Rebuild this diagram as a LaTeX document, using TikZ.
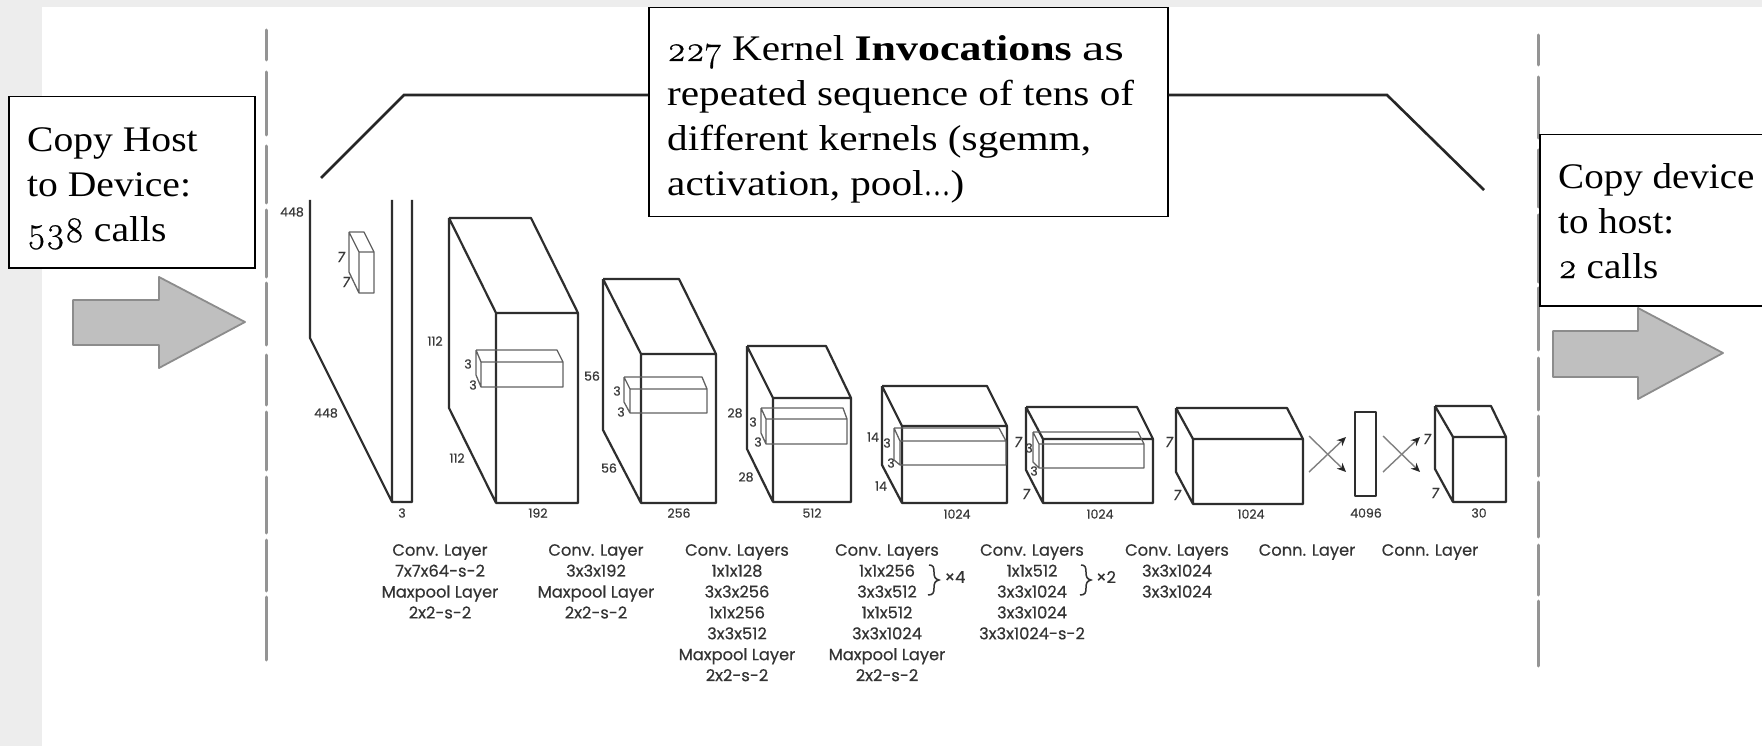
\documentclass[tikz,border=0pt]{standalone}
\usepackage{fontspec}
\setmainfont{Liberation Serif}
\newfontfamily\labelfont{Poppins}[FakeBold=0.4]
\newfontfamily\capfont{Poppins}[FakeBold=0.4,Numbers=Monospaced]
\newfontfamily\serifTop{Liberation Serif}[FakeStretch=1.145,BoldFeatures={FakeStretch=1.22}]
\newfontfamily\serifLeft{Liberation Serif}[FakeStretch=1.1]
\newfontfamily\serifRight{Liberation Serif}[FakeStretch=1.085]
\newfontfamily\serifWide{Liberation Serif}[FakeStretch=1.4]
\newfontfamily\serifTight{Liberation Serif}[FakeStretch=0.75]
\newfontfamily\osnfont{Latin Modern Roman}[Numbers=OldStyle,FakeBold=0.6]
\newcommand{\osn}[1]{{\osnfont #1}}
\usetikzlibrary{arrows.meta}
\newcommand{\cuboid}[9][]{%
 \def\argA{#2}\def\argB{#3}\def\argC{#4}\def\argD{#5}\def\argE{#6}\def\argF{#7}\def\argG{#8}\def\argH{#9}%
 \draw[#1] (\argD,\argE) rectangle (\argF,\argG)
   (\argA,\argB) -- (\argC,\argB) -- (\argF,\argE)
   (\argA,\argB) -- (\argD,\argE)
   (\argA,\argB) -- (\argA,\argH) -- (\argD,\argG);}
\tikzset{
 x=1pt,y=-1pt,
 layer/.style={draw=black!82,line width=2.2pt,line join=round},
 kernel/.style={draw=black!62,line width=1.3pt,line join=round},
 dim/.style={font=\labelfont\fontsize{12.5}{13}\selectfont,text=black!78,inner sep=0pt},
 dimit/.style={font=\labelfont\itshape\fontsize{14}{14}\selectfont,text=black!78,inner sep=0pt},
 caption/.style={font=\capfont\fontsize{16.3}{20.9}\selectfont,text=black!80,inner sep=0pt,align=center,anchor=north},
 callout/.style={draw=black,line width=1.5pt,fill=white,inner sep=0pt,anchor=north west},
 calltext/.style={font=\fontsize{36}{45}\selectfont,inner sep=0pt,align=left,text=black},
 guide/.style={draw=black!42,line width=3pt,line cap=round},
 bigarrow/.style={draw=black!45,fill=black!25,line width=1.8pt,line join=round},
 bracket/.style={draw=black!85,line width=2.6pt},
 xline/.style={draw=black!50,line width=1.4pt,-{Stealth[length=9pt,width=8pt,black!85]}},
}
\begin{document}
\begin{tikzpicture}
\useasboundingbox (0,0) rectangle (1762,746);
\clip (0,0) rectangle (1762,746);
\fill[black!7] (0,0) rectangle (1762,746);
\fill[white] (42,7) rectangle (1762,746);
% guides
\foreach \a/\b in {30/60,72/135,146/203,210/277,283/345,355/405,412/470,477/533,540/591,597/660}
  \draw[guide] (266,\a) -- (266,\b);
\foreach \a/\b in {35/65,77/138,150/207,215/282,288/350,358/410,416/476,482/537,545/595,601/666}
  \draw[guide] (1538,\a) -- (1538,\b);
% big arrows
\draw[bigarrow] (73,300) -- (159,300) -- (159,277) -- (245,322) -- (159,368) -- (159,345) -- (73,345) -- cycle;
\draw[bigarrow] (1553,331) -- (1638,331) -- (1638,308) -- (1723,353) -- (1638,399) -- (1638,377) -- (1553,377) -- cycle;
% layer 1
\draw[layer] (310,200) -- (310,338) -- (392,502) -- (392,200) (392,502) -- (412,502) -- (412,200);
\cuboid[kernel]{349}{232}{364}{359}{252}{374}{293}{272}
\node[dim] (d1a) at (292,212) {448};
\node[dim] (d1b) at (326,413) {448};
\node[dim] (d1c) at (402,513) {3};
\node[dimit] (k1a) at (341,257) {7};
\node[dimit] (k1b) at (346,282) {7};
% layer 2
\cuboid[layer]{449}{218}{531}{496}{313}{578}{503}{408}
\cuboid[kernel]{476}{350}{557}{481}{362}{563}{387}{375}
\node[dim] (d2a) at (435,341) {112};
\node[dim] (d2b) at (457,458) {112};
\node[dim] (d2c) at (538,513) {192};
\node[dim] (k2a) at (468,364) {3};
\node[dim] (k2b) at (473,385) {3};
% layer 3
\cuboid[layer]{603}{279}{679}{641}{354}{716}{503}{430}
\cuboid[kernel]{624}{377}{702}{630}{389}{707}{413}{402}
\node[dim] (d3a) at (592,376) {56};
\node[dim] (d3b) at (609,468) {56};
\node[dim] (d3c) at (679,513) {256};
\node[dim] (k3a) at (617,391) {3};
\node[dim] (k3b) at (621,412) {3};
% layer 4
\cuboid[layer]{747}{346}{826}{773}{398}{851}{502}{449}
\cuboid[kernel]{761}{408}{843}{766}{419}{847}{444}{433}
\node[dim] (d4a) at (735,413) {28};
\node[dim] (d4b) at (746,477) {28};
\node[dim] (d4c) at (812,513) {512};
\node[dim] (k4a) at (753,422) {3};
\node[dim] (k4b) at (758,442) {3};
% layer 5
\cuboid[layer]{882}{386}{987}{902}{426}{1007}{503}{465}
\cuboid[kernel]{894}{428}{999}{900}{441}{1006}{465}{460}
\node[dim] (d5a) at (873,437) {14};
\node[dim] (d5b) at (881,486) {14};
\node[dim] (d5c) at (957,514) {1024};
\node[dim] (k5a) at (887,443) {3};
\node[dim] (k5b) at (891,463) {3};
% layer 6
\cuboid[layer]{1026}{407}{1137}{1043}{439}{1153}{503}{470}
\cuboid[kernel]{1033}{432}{1138}{1039}{444}{1144}{468}{462}
\node[dimit] (d6a) at (1018,442) {7};
\node[dimit] (d6b) at (1026,494) {7};
\node[dim] (d6c) at (1100,514) {1024};
\node[dim] (k6a) at (1029,448) {3};
\node[dim] (k6b) at (1034,471) {3};
% layer 7
\cuboid[layer]{1176}{408}{1287}{1193}{439}{1303}{504}{472}
\node[dimit] (d7a) at (1169,442) {7};
\node[dimit] (d7b) at (1177,495) {7};
\node[dim] (d7c) at (1251,514) {1024};
% crossing arrows
\coordinate (xa1) at (1309,436); \coordinate (xa2) at (1346,472);
\coordinate (xb1) at (1309,472); \coordinate (xb2) at (1346,437);
\coordinate (xc1) at (1383,436); \coordinate (xc2) at (1420,472);
\coordinate (xd1) at (1383,472); \coordinate (xd2) at (1420,437);
\draw[xline] (xa1) -- (xa2);
\draw[xline] (xb1) -- (xb2);
\draw[xline] (xc1) -- (xc2);
\draw[xline] (xd1) -- (xd2);
% layer 8
\draw[layer] (1355,412) rectangle (1376,496);
\node[dim] (d8c) at (1366,513) {4096};
% layer 9
\cuboid[layer]{1435}{406}{1491}{1453}{437}{1506}{502}{469}
\node[dimit] (d9a) at (1427,439) {7};
\node[dimit] (d9b) at (1435,493) {7};
\node[dim] (d9c) at (1479,513) {30};
% captions
\node[caption] (c1) at (440,544) {Conv. Layer\\7x7x64-s-2\\Maxpool Layer\\2x2-s-2};
\node[caption] (c2) at (596,544) {Conv. Layer\\3x3x192\\Maxpool Layer\\2x2-s-2};
\node[caption] (c3) at (737,544) {Conv. Layers\\1x1x128\\3x3x256\\1x1x256\\3x3x512\\Maxpool Layer\\2x2-s-2};
\node[caption] (c4) at (887,544) {Conv. Layers\\1x1x256\\3x3x512\\1x1x512\\3x3x1024\\Maxpool Layer\\2x2-s-2};
\node[caption] (c5) at (1032,544) {Conv. Layers\\1x1x512\\3x3x1024\\3x3x1024\\3x3x1024-s-2};
\node[caption] (c6) at (1177,544) {Conv. Layers\\3x3x1024\\3x3x1024};
\node[caption] (c7) at (1307,544) {Conn. Layer};
\node[caption] (c8) at (1430,544) {Conn. Layer};
\node[caption,anchor=center] (x4) at (955,577) {×4};
\node[caption,anchor=center] (x2) at (1106,577) {×2};
\draw[line width=1.5pt,black!80] (929,565) .. controls (933,565) and (934,567) .. (934,572) .. controls (934,577) and (935,579) .. (939,580) .. controls (935,581) and (934,583) .. (934,588) .. controls (934,593) and (933,595) .. (928,595);
\draw[line width=1.5pt,black!80] (1081,565) .. controls (1085,565) and (1086,567) .. (1086,572) .. controls (1086,577) and (1087,579) .. (1091,580) .. controls (1087,581) and (1086,583) .. (1086,588) .. controls (1086,593) and (1085,595) .. (1080,595);
% bracket
\node[callout,minimum width=519pt,minimum height=209pt] (top) at (648,7) {};
\coordinate (bl) at (321,178); \coordinate (blk) at (404,95);
\coordinate (br) at (1484,190); \coordinate (brk) at (1387,95);
\draw[bracket] (bl) -- (blk) -- (top.west |- blk);
\draw[bracket] (br) -- (brk) -- (top.east |- brk);
% callouts
\node[calltext,anchor=base west] (toptext) at (667,196) {\serifTop\osn{227} Kernel \textbf{Invocations} {\serifWide as}\\\serifTop repeated sequence of tens of\\\serifTop different kernels (sgemm,\\\serifTop activation, pool{\serifTight …})};
\node[callout,minimum width=246pt,minimum height=171pt] (lbox) at (8,96) {};
\node[calltext,anchor=base west] (ltext) at (27,242) {\serifLeft Copy Host\\\serifLeft to Device:\\\osn{538}\serifLeft{} calls};
\node[callout,minimum width=240pt,minimum height=171pt] (rbox) at (1539,134) {};
\node[calltext,anchor=base west] (rtext) at (1558,278) {\serifRight Copy device\\\serifRight to host:\\\osn{2}\serifRight{} calls};
\end{tikzpicture}
\end{document}
